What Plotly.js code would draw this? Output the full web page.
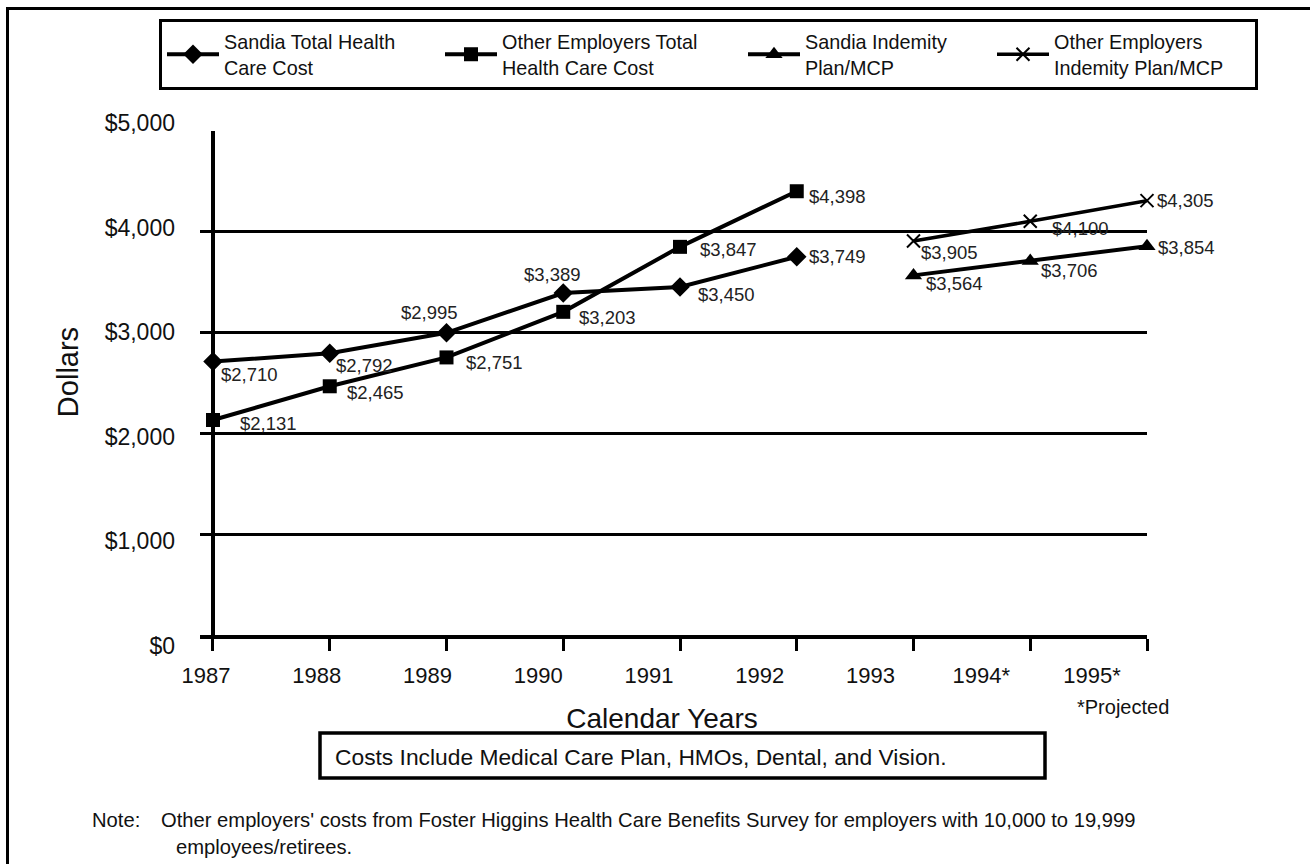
<!DOCTYPE html>
<html><head><meta charset="utf-8">
<script src="https://cdn.plot.ly/plotly-3.0.1.min.js"></script>
<style>html,body{margin:0;padding:0;background:#fff}#chart{width:1310px;height:864px}</style>
</head><body><div id="chart"></div>
<script>
// ---- data ----
const years = ['1987','1988','1989','1990','1991','1992','1993','1994*','1995*'];
const yearsTotal = ['1987','1988','1989','1990','1991','1992'];
const yearsIndem = ['1993','1994*','1995*'];
const sandiaTotal = [2710,2792,2995,3389,3450,3749];
const otherTotal = [2131,2465,2751,3203,3847,4398];
const sandiaIndem = [3564,3706,3854];
const otherIndem = [3905,4100,4305];
const yTickVals = [0,1000,2000,3000,4000,5000];
const yTickText = ['$0','$1,000','$2,000','$3,000','$4,000','$5,000'];
const seriesNames = ['Sandia Total Health<br>Care Cost','Other Employers Total<br>Health Care Cost','Sandia Indemity<br>Plan/MCP','Other Employers<br>Indemity Plan/MCP'];

// ---- geometry helpers (pixels -> paper) ----
const L=200, R=1147, T=95, B=660;
const px2x = p => (p-L)/(R-L);
const py2y = p => (B-p)/(B-T);
const FONT = 'Liberation Sans, Arial, sans-serif';
const fmt = v => '$' + v.toLocaleString('en-US');

// label offsets (px, right/down) per point
const offSandiaTotal = [[37,13],[35,12],[-17,-20],[-11,-19],[46,8],[41,0]];
const offOtherTotal  = [[56,4],[46,6],[48,5],[44,6],[48,3],[41,5]];
const offSandiaIndem = [[41,8],[39,9],[39,1]];
const offOtherIndem  = [[36,12],[50,7],[38,0]];

function labels(xs, vals, offs){
  return xs.map((x,i)=>({x:years.indexOf(x), y:vals[i], xref:'x', yref:'y', text:fmt(vals[i]), showarrow:false,
    xanchor:'center', yanchor:'middle', xshift:offs[i][0], yshift:-offs[i][1],
    font:{family:FONT, size:18.5, color:'#222'}}));
}

const lineStyle = {color:'#000', width:4};
const traces = [
  {x:yearsTotal, y:sandiaTotal, name:seriesNames[0], mode:'lines+markers', line:lineStyle,
   marker:{symbol:'diamond', size:15, color:'#000'}, legendwidth:211, cliponaxis:false},
  {x:yearsTotal, y:otherTotal, name:seriesNames[1], mode:'lines+markers', line:lineStyle,
   marker:{symbol:'square', size:14, color:'#000'}, legendwidth:236, cliponaxis:false},
  {x:yearsIndem, y:sandiaIndem, name:seriesNames[2], mode:'lines+markers', line:lineStyle,
   marker:{symbol:'triangle-up', size:15, color:'#000'}, legendwidth:182, cliponaxis:false},
  {x:yearsIndem, y:otherIndem, name:seriesNames[3], mode:'lines+markers', line:{color:'#000', width:3.5},
   marker:{symbol:'x-thin-open', size:13, color:'#000', line:{color:'#000', width:2}}, legendwidth:196, cliponaxis:false},
  // helper traces so the label-only axes get drawn
  {x:years.map((_,i)=>i), y:years.map(()=>null), xaxis:'x2', yaxis:'y', mode:'markers', showlegend:false, hoverinfo:'skip'},
  {x:years, y:years.map(()=>null), xaxis:'x', yaxis:'y2', mode:'markers', showlegend:false, hoverinfo:'skip'}
];

const annotations = [].concat(
  labels(yearsTotal, sandiaTotal, offSandiaTotal),
  labels(yearsTotal, otherTotal, offOtherTotal),
  labels(yearsIndem, sandiaIndem, offSandiaIndem),
  labels(yearsIndem, otherIndem, offOtherIndem),
  [
    {xref:'paper', yref:'paper', x:px2x(333), y:py2y(757), xanchor:'left', yanchor:'middle', showarrow:false,
     text:'Costs Include Medical Care Plan, HMOs, Dental, and Vision.', font:{family:FONT, size:22.8, color:'#111'}},
    {xref:'paper', yref:'paper', x:px2x(1075), y:py2y(707), xanchor:'left', yanchor:'middle', showarrow:false,
     text:'*Projected', font:{family:FONT, size:20, color:'#111'}},
    {xref:'paper', yref:'paper', x:px2x(90), y:py2y(820), xanchor:'left', yanchor:'middle', showarrow:false,
     text:'Note:', font:{family:FONT, size:20.2, color:'#111'}},
    {xref:'paper', yref:'paper', x:px2x(159), y:py2y(820), xanchor:'left', yanchor:'middle', showarrow:false,
     text:"Other employers' costs from Foster Higgins Health Care Benefits Survey for employers with 10,000 to 19,999", font:{family:FONT, size:20.2, color:'#111'}},
    {xref:'paper', yref:'paper', x:px2x(174), y:py2y(847), xanchor:'left', yanchor:'middle', showarrow:false,
     text:'employees/retirees.', font:{family:FONT, size:20.2, color:'#111'}}
  ]
);

const shapes = [
  {type:'rect', xref:'paper', yref:'paper', x0:px2x(320), x1:px2x(1045), y0:py2y(778), y1:py2y(733), line:{color:'#000', width:3.5}},
  {type:'line', xref:'paper', yref:'paper', x0:px2x(6), x1:px2x(1312), y0:py2y(8.5), y1:py2y(8.5), line:{color:'#000', width:3}},
  {type:'line', xref:'paper', yref:'paper', x0:px2x(7.5), x1:px2x(7.5), y0:py2y(7), y1:py2y(866), line:{color:'#000', width:3}}
];

// label-axis scales: x labels every 110.75 px from 206, y labels 523 px per 5000 from 646
const xLblStart = 206, xLblStep = 110.75;
const yLblZero = 646, yLblPerUnit = 523/5000;

const layout = {
  width:1310, height:864,
  margin:{l:L, r:1310-R, t:T, b:864-B, pad:0},
  paper_bgcolor:'#fff', plot_bgcolor:'rgba(0,0,0,0)',
  font:{family:FONT, color:'#111'},
  showlegend:true,
  legend:{orientation:'h', xref:'paper', yref:'paper', x:px2x(159), y:py2y(19), xanchor:'left', yanchor:'top',
    bordercolor:'#000', borderwidth:3, bgcolor:'#fff', font:{family:FONT, size:19.8, color:'#111'},
    itemwidth:52, entrywidthmode:'pixels', valign:'middle'},
  xaxis:{type:'category', categoryorder:'array', categoryarray:years, range:[-0.1113, 8],
    domain:[0,1], anchor:'y', showgrid:false, zeroline:false, showline:true, linecolor:'#000', linewidth:4,
    ticks:'outside', ticklen:12, tickwidth:3, tickcolor:'#000', showticklabels:false},
  xaxis2:{type:'linear', range:[(200-xLblStart)/xLblStep, (1124-xLblStart)/xLblStep], domain:[px2x(200), px2x(1124)], anchor:'y',
    tickvals:years.map((_,i)=>i), ticktext:years, showgrid:false, zeroline:false, showline:false, ticks:'',
    tickfont:{family:FONT, size:22, color:'#111'}, ticklabelstandoff:25,
    title:{text:'Calendar Years', font:{family:FONT, size:28, color:'#111'}, standoff:21}},
  yaxis:{range:[0,5000], domain:[py2y(635), py2y(130.5)], anchor:'free', position:px2x(213),
    tickvals:yTickVals, showticklabels:false, ticks:'', showgrid:true, gridcolor:'#000', gridwidth:3,
    zeroline:false, showline:true, linecolor:'#000', linewidth:4},
  yaxis2:{range:[0, (yLblZero-98)/yLblPerUnit], domain:[py2y(yLblZero), py2y(98)], anchor:'free', position:0,
    tickvals:yTickVals, ticktext:yTickText, showgrid:false, zeroline:false, showline:false, ticks:'',
    tickfont:{family:FONT, size:23, color:'#111'}, ticklabelstandoff:25,
    title:{text:'Dollars', font:{family:FONT, size:29, color:'#111'}, standoff:16}},
  annotations:annotations,
  shapes:shapes,
  hovermode:false
};

Plotly.newPlot('chart', traces, layout, {displayModeBar:false, staticPlot:true});
</script></body></html>
